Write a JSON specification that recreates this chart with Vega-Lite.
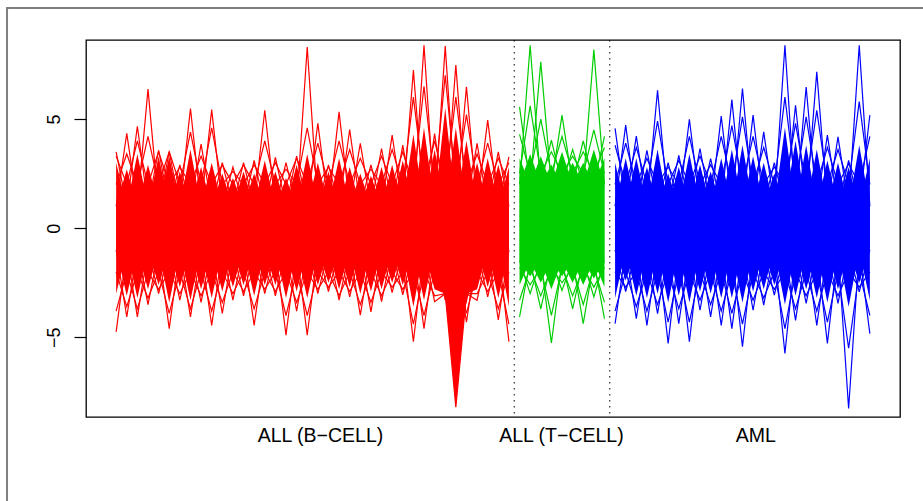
{
"$schema": "https://vega.github.io/schema/vega-lite/v6.json",
"width": 814, "height": 377,
"autosize": {"type": "none"},
"padding": {"left": 86, "top": 40, "right": 23, "bottom": 84},
"background": "white",
"config": {"view": {"stroke": "#000", "strokeWidth": 1.3}, "font": "Liberation Sans"},
"data": {"values": [
{"s":1,"g":"B","k":1,"h":3.0,"l":-3.0,"m":3.5,"n":-4.75,"e":3.3,"f":-3.8},{"s":1,"g":"B","k":2,"h":1,"l":-1,"m":1,"n":-1,"e":2,"f":-2},
{"s":2,"g":"B","k":2,"h":2.7,"l":-3.1,"m":4.34,"n":-4.06,"e":3.4,"f":-3.6},{"s":2,"g":"B","k":1,"h":1,"l":-1,"m":1,"n":-1,"e":2,"f":-2},
{"s":3,"g":"B","k":1,"h":3.4,"l":-3.2,"m":4.67,"n":-4.06,"e":4.0,"f":-3.7},{"s":3,"g":"B","k":2,"h":1,"l":-1,"m":1,"n":-1,"e":2,"f":-2},
{"s":4,"g":"B","k":2,"h":2.9,"l":-2.8,"m":6.37,"n":-3.5,"e":4.2,"f":-3.2},{"s":4,"g":"B","k":1,"h":1,"l":-1,"m":1,"n":-1,"e":2,"f":-2},
{"s":5,"g":"B","k":1,"h":3.3,"l":-2.6,"m":3.57,"n":-3.0,"e":3.5,"f":-2.8},{"s":5,"g":"B","k":2,"h":1,"l":-1,"m":1,"n":-1,"e":2,"f":-2},
{"s":6,"g":"B","k":2,"h":3.3,"l":-3.4,"m":3.5,"n":-4.6,"e":3.5,"f":-3.9},{"s":6,"g":"B","k":1,"h":1,"l":-1,"m":1,"n":-1,"e":2,"f":-2},
{"s":7,"g":"B","k":1,"h":2.6,"l":-2.7,"m":2.9,"n":-3.3,"e":2.8,"f":-3.0},{"s":7,"g":"B","k":2,"h":1,"l":-1,"m":1,"n":-1,"e":2,"f":-2},
{"s":8,"g":"B","k":2,"h":3.6,"l":-3.3,"m":5.48,"n":-4.06,"e":4.4,"f":-3.7},{"s":8,"g":"B","k":1,"h":1,"l":-1,"m":1,"n":-1,"e":2,"f":-2},
{"s":9,"g":"B","k":1,"h":2.8,"l":-2.8,"m":3.85,"n":-3.4,"e":3.3,"f":-3.1},{"s":9,"g":"B","k":2,"h":1,"l":-1,"m":1,"n":-1,"e":2,"f":-2},
{"s":10,"g":"B","k":2,"h":3.0,"l":-3.2,"m":5.43,"n":-4.45,"e":4.6,"f":-3.8},{"s":10,"g":"B","k":1,"h":1,"l":-1,"m":1,"n":-1,"e":2,"f":-2},
{"s":11,"g":"B","k":1,"h":2.5,"l":-2.9,"m":3.0,"n":-3.9,"e":2.9,"f":-3.4},{"s":11,"g":"B","k":2,"h":1,"l":-1,"m":1,"n":-1,"e":2,"f":-2},
{"s":12,"g":"B","k":2,"h":2.3,"l":-2.7,"m":2.8,"n":-3.3,"e":2.6,"f":-3.0},{"s":12,"g":"B","k":1,"h":1,"l":-1,"m":1,"n":-1,"e":2,"f":-2},
{"s":13,"g":"B","k":1,"h":2.6,"l":-2.6,"m":3.0,"n":-3.1,"e":2.9,"f":-2.9},{"s":13,"g":"B","k":2,"h":1,"l":-1,"m":1,"n":-1,"e":2,"f":-2},
{"s":14,"g":"B","k":2,"h":2.5,"l":-3.1,"m":3.1,"n":-4.45,"e":2.9,"f":-3.7},{"s":14,"g":"B","k":1,"h":1,"l":-1,"m":1,"n":-1,"e":2,"f":-2},
{"s":15,"g":"B","k":1,"h":3.1,"l":-2.6,"m":5.4,"n":-3.0,"e":4.0,"f":-2.8},{"s":15,"g":"B","k":2,"h":1,"l":-1,"m":1,"n":-1,"e":2,"f":-2},
{"s":16,"g":"B","k":2,"h":2.6,"l":-2.6,"m":3.24,"n":-3.1,"e":3.0,"f":-2.9},{"s":16,"g":"B","k":1,"h":1,"l":-1,"m":1,"n":-1,"e":2,"f":-2},
{"s":17,"g":"B","k":1,"h":2.3,"l":-3.2,"m":3.0,"n":-4.9,"e":2.7,"f":-4.0},{"s":17,"g":"B","k":2,"h":1,"l":-1,"m":1,"n":-1,"e":2,"f":-2},
{"s":18,"g":"B","k":2,"h":2.9,"l":-2.9,"m":3.3,"n":-3.8,"e":3.2,"f":-3.4},{"s":18,"g":"B","k":1,"h":1,"l":-1,"m":1,"n":-1,"e":2,"f":-2},
{"s":19,"g":"B","k":1,"h":3.4,"l":-3.2,"m":8.3,"n":-4.9,"e":4.6,"f":-4.0},{"s":19,"g":"B","k":2,"h":1,"l":-1,"m":1,"n":-1,"e":2,"f":-2},
{"s":20,"g":"B","k":2,"h":3.0,"l":-2.6,"m":4.8,"n":-3.0,"e":3.9,"f":-2.8},{"s":20,"g":"B","k":1,"h":1,"l":-1,"m":1,"n":-1,"e":2,"f":-2},
{"s":21,"g":"B","k":1,"h":2.6,"l":-2.5,"m":2.9,"n":-2.9,"e":2.8,"f":-2.7},{"s":21,"g":"B","k":2,"h":1,"l":-1,"m":1,"n":-1,"e":2,"f":-2},
{"s":22,"g":"B","k":2,"h":3.2,"l":-2.8,"m":5.33,"n":-3.3,"e":4.0,"f":-3.1},{"s":22,"g":"B","k":1,"h":1,"l":-1,"m":1,"n":-1,"e":2,"f":-2},
{"s":23,"g":"B","k":1,"h":2.8,"l":-2.7,"m":4.52,"n":-3.15,"e":3.6,"f":-2.9},{"s":23,"g":"B","k":2,"h":1,"l":-1,"m":1,"n":-1,"e":2,"f":-2},
{"s":24,"g":"B","k":2,"h":2.5,"l":-3.0,"m":3.88,"n":-3.98,"e":3.2,"f":-3.5},{"s":24,"g":"B","k":1,"h":1,"l":-1,"m":1,"n":-1,"e":2,"f":-2},
{"s":25,"g":"B","k":1,"h":2.4,"l":-2.9,"m":2.9,"n":-3.83,"e":2.7,"f":-3.4},{"s":25,"g":"B","k":2,"h":1,"l":-1,"m":1,"n":-1,"e":2,"f":-2},
{"s":26,"g":"B","k":2,"h":2.8,"l":-2.8,"m":3.65,"n":-3.37,"e":3.3,"f":-3.1},{"s":26,"g":"B","k":1,"h":1,"l":-1,"m":1,"n":-1,"e":2,"f":-2},
{"s":27,"g":"B","k":1,"h":2.9,"l":-2.5,"m":4.26,"n":-2.95,"e":3.6,"f":-2.7},{"s":27,"g":"B","k":2,"h":1,"l":-1,"m":1,"n":-1,"e":2,"f":-2},
{"s":28,"g":"B","k":2,"h":3.1,"l":-2.6,"m":3.8,"n":-3.05,"e":3.5,"f":-2.8},{"s":28,"g":"B","k":1,"h":1,"l":-1,"m":1,"n":-1,"e":2,"f":-2},
{"s":29,"g":"B","k":1,"h":4.3,"l":-3.6,"m":7.24,"n":-5.2,"e":6.0,"f":-4.4},{"s":29,"g":"B","k":2,"h":1,"l":-1,"m":1,"n":-1,"e":2,"f":-2},
{"s":30,"g":"B","k":2,"h":4.6,"l":-3.3,"m":8.38,"n":-4.6,"e":6.5,"f":-4.0},{"s":30,"g":"B","k":1,"h":1,"l":-1,"m":1,"n":-1,"e":2,"f":-2},
{"s":31,"g":"B","k":1,"h":3.6,"l":-2.8,"m":4.33,"n":-3.37,"e":4.0,"f":-3.1},{"s":31,"g":"B","k":2,"h":1,"l":-1,"m":1,"n":-1,"e":2,"f":-2},
{"s":32,"g":"B","k":2,"h":5.5,"l":-2.7,"m":8.34,"n":-3.3,"e":7.0,"f":-3.0},{"s":32,"g":"B","k":1,"h":1,"l":-3,"m":1,"n":-3,"e":2,"f":-3},
{"s":33,"g":"B","k":1,"h":4.6,"l":-8.2,"m":7.47,"n":-8.2,"e":6.0,"f":-7.0},{"s":33,"g":"B","k":2,"h":1,"l":-1,"m":1,"n":-1,"e":2,"f":-2},
{"s":34,"g":"B","k":2,"h":4.0,"l":-3.5,"m":6.48,"n":-4.3,"e":5.2,"f":-3.9},{"s":34,"g":"B","k":1,"h":1,"l":-3,"m":1,"n":-3,"e":2,"f":-3},
{"s":35,"g":"B","k":1,"h":3.0,"l":-2.8,"m":3.88,"n":-3.3,"e":3.4,"f":-3.0},{"s":35,"g":"B","k":2,"h":1,"l":-1,"m":1,"n":-1,"e":2,"f":-2},
{"s":36,"g":"B","k":2,"h":3.2,"l":-2.7,"m":4.95,"n":-3.15,"e":3.9,"f":-2.9},{"s":36,"g":"B","k":1,"h":1,"l":-1,"m":1,"n":-1,"e":2,"f":-2},
{"s":37,"g":"B","k":1,"h":2.9,"l":-3.2,"m":3.5,"n":-4.2,"e":3.2,"f":-3.7},{"s":37,"g":"B","k":2,"h":1,"l":-1,"m":1,"n":-1,"e":2,"f":-2},
{"s":38,"g":"B","k":2,"h":2.8,"l":-3.6,"m":3.27,"n":-5.2,"e":3.0,"f":-4.4},{"s":38,"g":"B","k":1,"h":1,"l":-1,"m":1,"n":-1,"e":2,"f":-2},
{"s":39,"g":"T","k":1,"h":3.2,"l":-2.6,"m":5.56,"n":-4.06,"e":4.3,"f":-3.3},{"s":39,"g":"T","k":2,"h":2,"l":-1.5,"m":2,"n":-1.5,"e":2.5,"f":-1.8},
{"s":40,"g":"T","k":2,"h":3.4,"l":-2.2,"m":8.38,"n":-3.0,"e":5.6,"f":-2.6},{"s":40,"g":"T","k":1,"h":2,"l":-1.5,"m":2,"n":-1.5,"e":2.5,"f":-1.8},
{"s":41,"g":"T","k":1,"h":3.3,"l":-2.5,"m":7.62,"n":-3.7,"e":5.0,"f":-3.1},{"s":41,"g":"T","k":2,"h":2,"l":-1.5,"m":2,"n":-1.5,"e":2.5,"f":-1.8},
{"s":42,"g":"T","k":2,"h":2.9,"l":-2.8,"m":4.03,"n":-5.26,"e":3.5,"f":-4.0},{"s":42,"g":"T","k":1,"h":2,"l":-1.5,"m":2,"n":-1.5,"e":2.5,"f":-1.8},
{"s":43,"g":"T","k":1,"h":3.5,"l":-2.2,"m":5.18,"n":-2.85,"e":4.2,"f":-2.5},{"s":43,"g":"T","k":2,"h":2,"l":-1.5,"m":2,"n":-1.5,"e":2.5,"f":-1.8},
{"s":44,"g":"T","k":2,"h":3.0,"l":-2.5,"m":3.6,"n":-3.7,"e":3.3,"f":-3.1},{"s":44,"g":"T","k":1,"h":2,"l":-1.5,"m":2,"n":-1.5,"e":2.5,"f":-1.8},
{"s":45,"g":"T","k":1,"h":3.0,"l":-2.6,"m":4.0,"n":-4.37,"e":3.5,"f":-3.5},{"s":45,"g":"T","k":2,"h":2,"l":-1.5,"m":2,"n":-1.5,"e":2.5,"f":-1.8},
{"s":46,"g":"T","k":2,"h":3.6,"l":-2.3,"m":8.18,"n":-3.15,"e":4.5,"f":-2.7},{"s":46,"g":"T","k":1,"h":2,"l":-1.5,"m":2,"n":-1.5,"e":2.5,"f":-1.8},
{"s":47,"g":"T","k":1,"h":3.2,"l":-2.7,"m":4.2,"n":-4.14,"e":3.7,"f":-3.4},{"s":47,"g":"T","k":2,"h":2,"l":-1.5,"m":2,"n":-1.5,"e":2.5,"f":-1.8},
{"s":48,"g":"A","k":2,"h":3.0,"l":-3.2,"m":4.57,"n":-4.37,"e":3.8,"f":-3.8},{"s":48,"g":"A","k":1,"h":1,"l":-1,"m":1,"n":-1,"e":2,"f":-2},
{"s":49,"g":"A","k":1,"h":3.2,"l":-2.4,"m":4.72,"n":-2.9,"e":3.9,"f":-2.7},{"s":49,"g":"A","k":2,"h":1,"l":-1,"m":1,"n":-1,"e":2,"f":-2},
{"s":50,"g":"A","k":2,"h":3.2,"l":-3.1,"m":4.22,"n":-4.14,"e":3.7,"f":-3.6},{"s":50,"g":"A","k":1,"h":1,"l":-1,"m":1,"n":-1,"e":2,"f":-2},
{"s":51,"g":"A","k":1,"h":2.8,"l":-3.2,"m":3.57,"n":-4.45,"e":3.2,"f":-3.8},{"s":51,"g":"A","k":2,"h":1,"l":-1,"m":1,"n":-1,"e":2,"f":-2},
{"s":52,"g":"A","k":2,"h":3.6,"l":-3.0,"m":6.32,"n":-3.91,"e":4.9,"f":-3.5},{"s":52,"g":"A","k":1,"h":1,"l":-1,"m":1,"n":-1,"e":2,"f":-2},
{"s":53,"g":"A","k":1,"h":2.5,"l":-3.4,"m":3.0,"n":-5.28,"e":2.8,"f":-4.3},{"s":53,"g":"A","k":2,"h":1,"l":-1,"m":1,"n":-1,"e":2,"f":-2},
{"s":54,"g":"A","k":2,"h":2.8,"l":-3.1,"m":3.34,"n":-4.37,"e":3.1,"f":-3.7},{"s":54,"g":"A","k":1,"h":1,"l":-1,"m":1,"n":-1,"e":2,"f":-2},
{"s":55,"g":"A","k":1,"h":3.4,"l":-3.4,"m":4.99,"n":-5.2,"e":4.2,"f":-4.3},{"s":55,"g":"A","k":2,"h":1,"l":-1,"m":1,"n":-1,"e":2,"f":-2},
{"s":56,"g":"A","k":2,"h":2.9,"l":-2.9,"m":3.65,"n":-3.76,"e":3.3,"f":-3.3},{"s":56,"g":"A","k":1,"h":1,"l":-1,"m":1,"n":-1,"e":2,"f":-2},
{"s":57,"g":"A","k":1,"h":2.6,"l":-3.0,"m":3.19,"n":-4.06,"e":2.9,"f":-3.5},{"s":57,"g":"A","k":2,"h":1,"l":-1,"m":1,"n":-1,"e":2,"f":-2},
{"s":58,"g":"A","k":2,"h":3.2,"l":-3.2,"m":5.13,"n":-4.45,"e":4.2,"f":-3.8},{"s":58,"g":"A","k":1,"h":1,"l":-1,"m":1,"n":-1,"e":2,"f":-2},
{"s":59,"g":"A","k":1,"h":3.6,"l":-3.2,"m":5.89,"n":-4.6,"e":4.7,"f":-3.9},{"s":59,"g":"A","k":2,"h":1,"l":-1,"m":1,"n":-1,"e":2,"f":-2},
{"s":60,"g":"A","k":2,"h":3.8,"l":-3.4,"m":6.4,"n":-5.43,"e":5.1,"f":-4.4},{"s":60,"g":"A","k":1,"h":1,"l":-1,"m":1,"n":-1,"e":2,"f":-2},
{"s":61,"g":"A","k":1,"h":3.3,"l":-2.9,"m":5.18,"n":-3.76,"e":4.2,"f":-3.3},{"s":61,"g":"A","k":2,"h":1,"l":-1,"m":1,"n":-1,"e":2,"f":-2},
{"s":62,"g":"A","k":2,"h":3.0,"l":-2.8,"m":4.41,"n":-3.53,"e":3.7,"f":-3.2},{"s":62,"g":"A","k":1,"h":1,"l":-1,"m":1,"n":-1,"e":2,"f":-2},
{"s":63,"g":"A","k":1,"h":2.5,"l":-2.6,"m":3.0,"n":-3.07,"e":2.8,"f":-2.8},{"s":63,"g":"A","k":2,"h":1,"l":-1,"m":1,"n":-1,"e":2,"f":-2},
{"s":64,"g":"A","k":2,"h":4.6,"l":-3.5,"m":8.38,"n":-5.74,"e":6.0,"f":-4.6},{"s":64,"g":"A","k":1,"h":1,"l":-1,"m":1,"n":-1,"e":2,"f":-2},
{"s":65,"g":"A","k":1,"h":4.0,"l":-3.1,"m":5.63,"n":-4.22,"e":4.8,"f":-3.7},{"s":65,"g":"A","k":2,"h":1,"l":-1,"m":1,"n":-1,"e":2,"f":-2},
{"s":66,"g":"A","k":2,"h":3.8,"l":-2.8,"m":6.47,"n":-3.45,"e":5.1,"f":-3.1},{"s":66,"g":"A","k":1,"h":1,"l":-1,"m":1,"n":-1,"e":2,"f":-2},
{"s":67,"g":"A","k":1,"h":3.6,"l":-3.2,"m":7.16,"n":-4.45,"e":5.4,"f":-3.8},{"s":67,"g":"A","k":2,"h":1,"l":-1,"m":1,"n":-1,"e":2,"f":-2},
{"s":68,"g":"A","k":2,"h":3.1,"l":-3.4,"m":4.26,"n":-5.28,"e":3.7,"f":-4.3},{"s":68,"g":"A","k":1,"h":1,"l":-1,"m":1,"n":-1,"e":2,"f":-2},
{"s":69,"g":"A","k":1,"h":3.0,"l":-2.8,"m":4.18,"n":-3.45,"e":3.6,"f":-3.1},{"s":69,"g":"A","k":2,"h":1,"l":-1,"m":1,"n":-1,"e":2,"f":-2},
{"s":70,"g":"A","k":2,"h":2.8,"l":-3.6,"m":3.1,"n":-8.26,"e":2.95,"f":-5.5},{"s":70,"g":"A","k":1,"h":1,"l":-1,"m":1,"n":-1,"e":2,"f":-2},
{"s":71,"g":"A","k":1,"h":3.8,"l":-2.5,"m":8.38,"n":-2.92,"e":5.8,"f":-2.7},{"s":71,"g":"A","k":2,"h":1,"l":-1,"m":1,"n":-1,"e":2,"f":-2},
{"s":72,"g":"A","k":2,"h":3.2,"l":-3.3,"m":5.18,"n":-4.83,"e":4.2,"f":-4.0},{"s":72,"g":"A","k":1,"h":1,"l":-1,"m":1,"n":-1,"e":2,"f":-2}
]},
"layer": [
{"mark": {"type": "area", "interpolate": "linear", "fillOpacity": 1},
 "encoding": {
  "x": {"field": "s", "type": "quantitative", "scale": {"domain": [-1.84, 74.84], "nice": false, "zero": false},
        "axis": {"values": [20.2, 42.9, 61.2], "labelExpr": "datum.value < 30 ? 'ALL (B−CELL)' : datum.value < 50 ? 'ALL (T−CELL)' : 'AML'", "ticks": false, "tickSize": 0, "domain": false, "grid": false, "title": null, "labelFontSize": 19.5, "labelColor": "#000", "labelPadding": 9, "labelFont": "Liberation Sans"}},
  "y": {"field": "h", "type": "quantitative", "stack": null, "scale": {"domain": [-8.65, 8.62], "nice": false, "zero": false},
        "axis": {"values": [-5, 0, 5], "labelAngle": 270, "labelAlign": "center", "labelBaseline": "bottom", "tickSize": 12, "tickColor": "#000", "tickWidth": 1.2, "domain": false, "grid": false, "title": null, "labelFontSize": 18, "labelColor": "#000", "labelPadding": 11, "labelFont": "Liberation Sans"}},
  "y2": {"field": "l"},
  "color": {"field": "g", "type": "nominal", "scale": {"domain": ["B", "T", "A"], "range": ["#FF0000", "#00CD00", "#0000FF"]}, "legend": null},
  "detail": {"field": "k", "type": "nominal"}
 }},
{"mark": {"type": "line", "strokeWidth": 1.2, "interpolate": "linear"},
 "encoding": {
  "x": {"field": "s", "type": "quantitative"},
  "y": {"field": "e", "type": "quantitative"},
  "color": {"field": "g", "type": "nominal"},
  "detail": {"field": "k", "type": "nominal"},
  "order": {"field": "s", "type": "quantitative"}
 }},
{"mark": {"type": "line", "strokeWidth": 1.2, "interpolate": "linear"},
 "encoding": {
  "x": {"field": "s", "type": "quantitative"},
  "y": {"field": "f", "type": "quantitative"},
  "color": {"field": "g", "type": "nominal"},
  "detail": {"field": "k", "type": "nominal"},
  "order": {"field": "s", "type": "quantitative"}
 }},
{"mark": {"type": "line", "strokeWidth": 1.2, "interpolate": "linear"},
 "encoding": {
  "x": {"field": "s", "type": "quantitative"},
  "y": {"field": "m", "type": "quantitative"},
  "color": {"field": "g", "type": "nominal"},
  "detail": {"field": "k", "type": "nominal"},
  "order": {"field": "s", "type": "quantitative"}
 }},
{"mark": {"type": "line", "strokeWidth": 1.2, "interpolate": "linear"},
 "encoding": {
  "x": {"field": "s", "type": "quantitative"},
  "y": {"field": "n", "type": "quantitative"},
  "color": {"field": "g", "type": "nominal"},
  "detail": {"field": "k", "type": "nominal"},
  "order": {"field": "s", "type": "quantitative"}
 }},
{"data": {"values": [{"v": 38.5}, {"v": 47.5}]},
 "mark": {"type": "rule", "color": "#000", "strokeWidth": 1, "strokeDash": [1.5, 4.5]},
 "encoding": {"x": {"field": "v", "type": "quantitative"}}},
{"data": {"values": [{"f": 1}]},
 "mark": {"type": "rect", "filled": false, "stroke": "#7f7f7f", "strokeWidth": 2, "clip": false},
 "encoding": {
  "x": {"datum": -9.28, "type": "quantitative"},
  "x2": {"datum": 120},
  "y": {"datum": 10.09, "type": "quantitative"},
  "y2": {"datum": -40}
 }}
]
}
